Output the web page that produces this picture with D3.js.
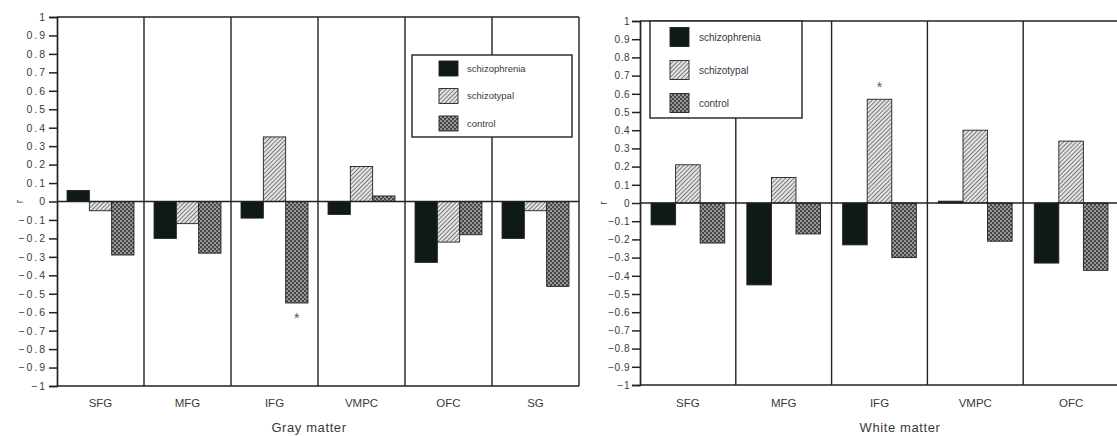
<!DOCTYPE html>
<html>
<head>
<meta charset="utf-8">
<script src="https://cdn.jsdelivr.net/npm/d3@7"></script>
<style>
body { margin: 0; background: #fff; }
svg { display: block; font-family: "Liberation Sans", Arial, sans-serif; }
</style>
</head>
<body>
<svg id="chart" width="1117" height="436"></svg>
<script>
// groups shown in the legend
var groups = ["schizophrenia", "schizotypal", "control"];

// gray matter panel
var grayRegions = ["SFG", "MFG", "IFG", "VMPC", "OFC", "SG"];
var graySchizophrenia = [0.06, -0.20, -0.09, -0.07, -0.33, -0.20];
var graySchizotypal = [-0.05, -0.12, 0.35, 0.19, -0.22, -0.05];
var grayControl = [-0.29, -0.28, -0.55, 0.03, -0.18, -0.46];
var grayStar = ["IFG", "control"];

// white matter panel
var whiteRegions = ["SFG", "MFG", "IFG", "VMPC", "OFC"];
var whiteSchizophrenia = [-0.12, -0.45, -0.23, 0.01, -0.33];
var whiteSchizotypal = [0.21, 0.14, 0.57, 0.40, 0.34];
var whiteControl = [-0.22, -0.17, -0.30, -0.21, -0.37];
var whiteStar = ["IFG", "schizotypal"];

var yTicks = d3.range(-10, 11).map(d => d / 10);

let svg = d3.select("#chart");
let defs = svg.append("defs");

// diagonal hatch for schizotypal
let hatch = defs.append("pattern")
    .attr("id", "hatch")
    .attr("patternUnits", "userSpaceOnUse")
    .attr("width", 3).attr("height", 3)
    .attr("patternTransform", "rotate(45)");
hatch.append("rect").attr("width", 3).attr("height", 3).attr("fill", "#e4e4e4");
hatch.append("line")
    .attr("x1", 0).attr("y1", 0).attr("x2", 0).attr("y2", 3)
    .attr("stroke", "#333").attr("stroke-width", 1.2);

// dotted checker for control
let dots = defs.append("pattern")
    .attr("id", "dots")
    .attr("patternUnits", "userSpaceOnUse")
    .attr("width", 4).attr("height", 4);
dots.append("rect").attr("width", 4).attr("height", 4).attr("fill", "#484848");
dots.append("circle").attr("cx", 1).attr("cy", 1).attr("r", 0.85).attr("fill", "#e4e4e4");
dots.append("circle").attr("cx", 3).attr("cy", 3).attr("r", 0.85).attr("fill", "#e4e4e4");

let fillScale = d3.scaleOrdinal(groups, ["#101a14", "url(#hatch)", "url(#dots)"]);

let lineColor = "#222";
let textColor = "#3a3a3a";

function tickLabel(d) {
    if (Math.abs(d) < 1e-9) return "0";
    if (Math.abs(d - 1) < 1e-9) return "1";
    if (Math.abs(d + 1) < 1e-9) return "\u22121";
    return d3.format(".1f")(d);
}

function drawPanel(p) {
    let g = svg.append("g");

    let x = d3.scaleBand(p.regions, p.xRange).paddingInner(0).paddingOuter(0);
    let xs = d3.scaleBand(groups, [0, x.bandwidth()]).paddingInner(0).paddingOuter(0.45);
    let y = d3.scaleLinear([-1, 1], p.yRange);

    let rows = [];
    p.regions.forEach((r, i) => {
        p.series.forEach((s, j) => {
            rows.push({ region: r, group: groups[j], value: s[i] });
        });
    });

    // y axis
    let axis = g.append("g")
        .attr("transform", "translate(" + p.xRange[0] + ",0)")
        .call(d3.axisLeft(y).tickValues(yTicks).tickFormat(tickLabel).tickSize(8).tickPadding(2));
    axis.select(".domain").attr("stroke", lineColor).attr("stroke-width", 1.7);
    axis.selectAll(".tick line").attr("stroke", lineColor).attr("stroke-width", 1.5);
    axis.selectAll(".tick text")
        .attr("fill", textColor)
        .style("font-size", p.tickFont + "px")
        .style("letter-spacing", p.tickSpacing + "px");

    // frame lines: top, bottom, dividers
    g.append("line")
        .attr("x1", p.xRange[0]).attr("x2", p.xRange[1])
        .attr("y1", y(1)).attr("y2", y(1))
        .attr("stroke", lineColor).attr("stroke-width", 1.7);
    g.append("line")
        .attr("x1", p.xRange[0]).attr("x2", p.xRange[1])
        .attr("y1", y(-1)).attr("y2", y(-1))
        .attr("stroke", lineColor).attr("stroke-width", 1.7);
    g.selectAll(".divider")
        .data(p.regions.slice(1).concat(p.closeRight ? ["__end"] : []))
        .enter().append("line")
        .attr("x1", d => d == "__end" ? p.xRange[1] : x(d))
        .attr("x2", d => d == "__end" ? p.xRange[1] : x(d))
        .attr("y1", y(1)).attr("y2", y(-1))
        .attr("stroke", lineColor).attr("stroke-width", 1.4);

    // bars
    g.selectAll(".bar")
        .data(rows)
        .enter().append("rect")
        .attr("x", d => x(d.region) + xs(d.group))
        .attr("width", xs.bandwidth())
        .attr("y", d => y(Math.max(0, d.value)))
        .attr("height", d => Math.abs(y(d.value) - y(0)))
        .attr("fill", d => fillScale(d.group))
        .attr("stroke", "#222")
        .attr("stroke-width", 0.9);

    // zero line
    g.append("line")
        .attr("x1", p.xRange[0]).attr("x2", p.xRange[1])
        .attr("y1", y(0)).attr("y2", y(0))
        .attr("stroke", lineColor).attr("stroke-width", 1.5);

    // significance star
    let starRow = rows.find(d => d.region == p.star[0] && d.group == p.star[1]);
    g.append("text")
        .attr("x", x(starRow.region) + xs(starRow.group) + xs.bandwidth() / 2)
        .attr("y", starRow.value < 0 ? y(starRow.value) + 20 : y(starRow.value) - 7)
        .attr("text-anchor", "middle")
        .attr("fill", "#555")
        .style("font-size", "14px")
        .text("*");

    // category labels
    g.selectAll(".cat")
        .data(p.regions)
        .enter().append("text")
        .attr("x", d => x(d) + x.bandwidth() / 2)
        .attr("y", 407)
        .attr("text-anchor", "middle")
        .attr("fill", textColor)
        .style("font-size", "11.5px")
        .text(d => d);

    // axis title and "r"
    g.append("text")
        .attr("x", p.titleX).attr("y", 432)
        .attr("text-anchor", "middle")
        .attr("fill", textColor)
        .style("font-size", "13px")
        .style("letter-spacing", "0.6px")
        .text(p.title);
    g.append("text")
        .attr("transform", "translate(" + p.rX + "," + y(0) + ") rotate(-90)")
        .attr("text-anchor", "middle")
        .attr("dy", "0.35em")
        .attr("fill", textColor)
        .style("font-size", "10px")
        .text("r");

    // legend
    let L = p.legend;
    let lg = g.append("g");
    lg.append("rect")
        .attr("x", L.x).attr("y", L.y)
        .attr("width", L.w).attr("height", L.h)
        .attr("fill", "#fff")
        .attr("stroke", lineColor).attr("stroke-width", 1.4);
    groups.forEach((grp, i) => {
        let cy = L.y + L.first + i * L.step;
        lg.append("rect")
            .attr("x", L.sx).attr("y", cy - L.sh / 2)
            .attr("width", L.sw).attr("height", L.sh)
            .attr("fill", fillScale(grp))
            .attr("stroke", "#222").attr("stroke-width", 0.9);
        lg.append("text")
            .attr("x", L.tx).attr("y", cy)
            .attr("dy", "0.35em")
            .attr("fill", textColor)
            .style("font-size", L.font + "px")
            .text(grp);
    });
}

drawPanel({
    regions: grayRegions,
    series: [graySchizophrenia, graySchizotypal, grayControl],
    star: grayStar,
    xRange: [57, 579],
    yRange: [386, 17],
    closeRight: true,
    tickFont: 10.5,
    tickSpacing: 2,
    title: "Gray matter",
    titleX: 309,
    rX: 19,
    legend: { x: 412, y: 55, w: 160, h: 82, first: 13.5, step: 27.5, sx: 439, sw: 19, sh: 15, tx: 467, font: 9.5 }
});

drawPanel({
    regions: whiteRegions,
    series: [whiteSchizophrenia, whiteSchizotypal, whiteControl],
    star: whiteStar,
    xRange: [640, 1119],
    yRange: [385, 21],
    closeRight: false,
    tickFont: 10,
    tickSpacing: 0.5,
    title: "White matter",
    titleX: 900,
    rX: 603,
    legend: { x: 650, y: 21, w: 152, h: 97, first: 16, step: 33, sx: 670, sw: 19, sh: 19, tx: 699, font: 10 }
});
</script>
</body>
</html>
